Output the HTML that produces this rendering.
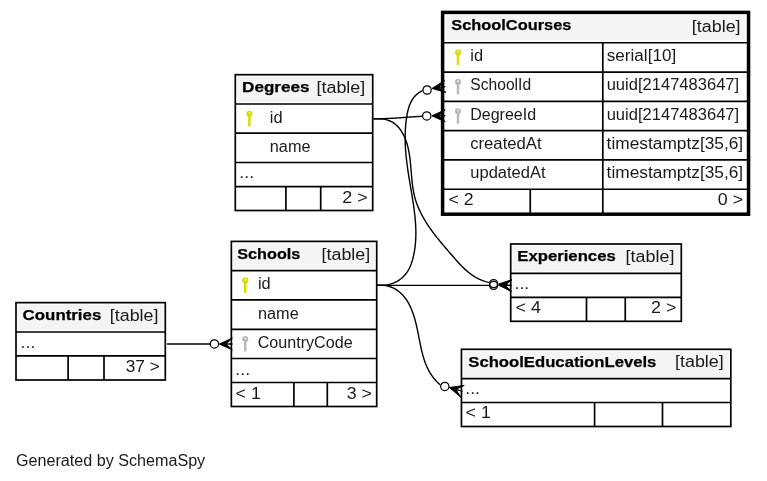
<!DOCTYPE html>
<html><head><meta charset="utf-8"><style>
html,body{margin:0;padding:0;background:#fff;}
svg{display:block;will-change:transform;}
text{font-family:"Liberation Sans",sans-serif;}
</style></head><body>
<svg width="767" height="481" viewBox="0 0 767 481">
<rect width="767" height="481" fill="#fff"/>
<rect x="442.60" y="12.40" width="305.95" height="201.80" fill="#fff"/>
<rect x="445.60" y="15.40" width="299.95" height="25.25" fill="#f4f4f4"/>
<line x1="442.60" y1="42.75" x2="748.55" y2="42.75" stroke="#000" stroke-width="1.7"/>
<line x1="442.60" y1="72.05" x2="748.55" y2="72.05" stroke="#000" stroke-width="1.7"/>
<line x1="442.60" y1="101.35" x2="748.55" y2="101.35" stroke="#000" stroke-width="1.7"/>
<line x1="442.60" y1="130.65" x2="748.55" y2="130.65" stroke="#000" stroke-width="1.7"/>
<line x1="442.60" y1="159.95" x2="748.55" y2="159.95" stroke="#000" stroke-width="1.7"/>
<line x1="442.60" y1="189.25" x2="748.55" y2="189.25" stroke="#000" stroke-width="1.7"/>
<line x1="602.80" y1="42.75" x2="602.80" y2="214.20" stroke="#000" stroke-width="1.7"/>
<line x1="530.25" y1="189.25" x2="530.25" y2="214.20" stroke="#000" stroke-width="1.7"/>
<rect x="442.60" y="12.40" width="305.95" height="201.80" fill="none" stroke="#000" stroke-width="3.5"/>
<text x="451.28" y="29.70" font-weight="bold" font-size="15.4" textLength="120.13" lengthAdjust="spacingAndGlyphs" fill="#000" stroke="#000" stroke-width="0.25">SchoolCourses</text>
<text x="691.82" y="31.80" font-weight="normal" font-size="15.6" textLength="48.75" lengthAdjust="spacingAndGlyphs" fill="#1a1a1a">[table]</text>
<g fill="#d6dc00"><circle cx="458.00" cy="52.60" r="3.05"/><rect x="456.75" y="52.60" width="2.5" height="12.4"/></g><rect x="457.50" y="51.20" width="1.4" height="1.5" fill="#fff"/><rect x="458.55" y="59.80" width="0.7" height="0.6" fill="#fff" opacity="0.6"/><rect x="458.55" y="62.00" width="0.7" height="0.6" fill="#fff" opacity="0.6"/>
<text x="470.39" y="60.95" font-weight="normal" font-size="15.6" textLength="12.75" lengthAdjust="spacingAndGlyphs" fill="#1a1a1a">id</text>
<text x="606.82" y="60.95" font-weight="normal" font-size="15.6" textLength="69.36" lengthAdjust="spacingAndGlyphs" fill="#1a1a1a">serial[10]</text>
<g fill="#b9b9b9"><circle cx="458.00" cy="81.90" r="3.05"/><rect x="456.75" y="81.90" width="2.5" height="12.4"/></g><rect x="457.50" y="80.50" width="1.4" height="1.5" fill="#fff"/><rect x="458.55" y="89.10" width="0.7" height="0.6" fill="#fff" opacity="0.6"/><rect x="458.55" y="91.30" width="0.7" height="0.6" fill="#fff" opacity="0.6"/>
<text x="470.36" y="90.25" font-weight="normal" font-size="15.6" textLength="60.73" lengthAdjust="spacingAndGlyphs" fill="#1a1a1a">SchoolId</text>
<text x="606.67" y="90.25" font-weight="normal" font-size="15.6" textLength="132.47" lengthAdjust="spacingAndGlyphs" fill="#1a1a1a">uuid[2147483647]</text>
<g fill="#b9b9b9"><circle cx="458.00" cy="111.20" r="3.05"/><rect x="456.75" y="111.20" width="2.5" height="12.4"/></g><rect x="457.50" y="109.80" width="1.4" height="1.5" fill="#fff"/><rect x="458.55" y="118.40" width="0.7" height="0.6" fill="#fff" opacity="0.6"/><rect x="458.55" y="120.60" width="0.7" height="0.6" fill="#fff" opacity="0.6"/>
<text x="470.23" y="119.55" font-weight="normal" font-size="15.6" textLength="65.88" lengthAdjust="spacingAndGlyphs" fill="#1a1a1a">DegreeId</text>
<text x="606.67" y="119.55" font-weight="normal" font-size="15.6" textLength="132.47" lengthAdjust="spacingAndGlyphs" fill="#1a1a1a">uuid[2147483647]</text>
<text x="470.20" y="148.85" font-weight="normal" font-size="15.6" textLength="71.42" lengthAdjust="spacingAndGlyphs" fill="#1a1a1a">createdAt</text>
<text x="606.63" y="148.85" font-weight="normal" font-size="15.6" textLength="136.56" lengthAdjust="spacingAndGlyphs" fill="#1a1a1a">timestamptz[35,6]</text>
<text x="470.27" y="178.15" font-weight="normal" font-size="15.6" textLength="75.35" lengthAdjust="spacingAndGlyphs" fill="#1a1a1a">updatedAt</text>
<text x="606.63" y="178.15" font-weight="normal" font-size="15.6" textLength="136.56" lengthAdjust="spacingAndGlyphs" fill="#1a1a1a">timestamptz[35,6]</text>
<text x="448.53" y="204.75" font-weight="normal" font-size="15.6" textLength="25.07" lengthAdjust="spacingAndGlyphs" fill="#1a1a1a">&lt; 2</text>
<text x="717.78" y="204.75" font-weight="normal" font-size="15.6" textLength="25.34" lengthAdjust="spacingAndGlyphs" fill="#1a1a1a">0 &gt;</text>
<rect x="235.30" y="74.70" width="137.40" height="135.80" fill="#fff"/>
<rect x="237.20" y="76.60" width="133.60" height="25.30" fill="#f4f4f4"/>
<line x1="235.30" y1="104.00" x2="372.70" y2="104.00" stroke="#000" stroke-width="1.7"/>
<line x1="235.30" y1="133.20" x2="372.70" y2="133.20" stroke="#000" stroke-width="1.7"/>
<line x1="235.30" y1="162.50" x2="372.70" y2="162.50" stroke="#000" stroke-width="1.7"/>
<line x1="235.30" y1="186.60" x2="372.70" y2="186.60" stroke="#000" stroke-width="1.7"/>
<line x1="285.90" y1="186.60" x2="285.90" y2="210.50" stroke="#000" stroke-width="1.7"/>
<line x1="320.70" y1="186.60" x2="320.70" y2="210.50" stroke="#000" stroke-width="1.7"/>
<rect x="235.30" y="74.70" width="137.40" height="135.80" fill="none" stroke="#000" stroke-width="1.7"/>
<text x="242.06" y="91.70" font-weight="bold" font-size="15.4" textLength="67.54" lengthAdjust="spacingAndGlyphs" fill="#000" stroke="#000" stroke-width="0.25">Degrees</text>
<text x="316.52" y="92.80" font-weight="normal" font-size="15.6" textLength="48.75" lengthAdjust="spacingAndGlyphs" fill="#1a1a1a">[table]</text>
<g fill="#d6dc00"><circle cx="249.40" cy="113.80" r="3.05"/><rect x="248.15" y="113.80" width="2.5" height="12.4"/></g><rect x="248.90" y="112.40" width="1.4" height="1.5" fill="#fff"/><rect x="249.95" y="121.00" width="0.7" height="0.6" fill="#fff" opacity="0.6"/><rect x="249.95" y="123.20" width="0.7" height="0.6" fill="#fff" opacity="0.6"/>
<text x="269.80" y="122.85" font-weight="normal" font-size="15.6" textLength="12.75" lengthAdjust="spacingAndGlyphs" fill="#1a1a1a">id</text>
<text x="269.82" y="152.10" font-weight="normal" font-size="15.6" textLength="40.71" lengthAdjust="spacingAndGlyphs" fill="#1a1a1a">name</text>
<text x="239.39" y="178.25" font-weight="normal" font-size="15.6" textLength="14.74" lengthAdjust="spacingAndGlyphs" fill="#1a1a1a">...</text>
<text x="342.34" y="202.50" font-weight="normal" font-size="15.6" textLength="25.44" lengthAdjust="spacingAndGlyphs" fill="#1a1a1a">2 &gt;</text>
<rect x="231.35" y="241.40" width="145.35" height="165.10" fill="#fff"/>
<rect x="233.25" y="243.30" width="141.55" height="25.30" fill="#f4f4f4"/>
<line x1="231.35" y1="270.70" x2="376.70" y2="270.70" stroke="#000" stroke-width="1.7"/>
<line x1="231.35" y1="299.90" x2="376.70" y2="299.90" stroke="#000" stroke-width="1.7"/>
<line x1="231.35" y1="329.30" x2="376.70" y2="329.30" stroke="#000" stroke-width="1.7"/>
<line x1="231.35" y1="358.50" x2="376.70" y2="358.50" stroke="#000" stroke-width="1.7"/>
<line x1="231.35" y1="382.50" x2="376.70" y2="382.50" stroke="#000" stroke-width="1.7"/>
<line x1="293.90" y1="382.50" x2="293.90" y2="406.50" stroke="#000" stroke-width="1.7"/>
<line x1="327.30" y1="382.50" x2="327.30" y2="406.50" stroke="#000" stroke-width="1.7"/>
<rect x="231.35" y="241.40" width="145.35" height="165.10" fill="none" stroke="#000" stroke-width="1.7"/>
<text x="237.28" y="258.80" font-weight="bold" font-size="15.4" textLength="63.12" lengthAdjust="spacingAndGlyphs" fill="#000" stroke="#000" stroke-width="0.25">Schools</text>
<text x="321.52" y="260.00" font-weight="normal" font-size="15.6" textLength="48.75" lengthAdjust="spacingAndGlyphs" fill="#1a1a1a">[table]</text>
<g fill="#d6dc00"><circle cx="245.25" cy="280.50" r="3.05"/><rect x="244.00" y="280.50" width="2.5" height="12.4"/></g><rect x="244.75" y="279.10" width="1.4" height="1.5" fill="#fff"/><rect x="245.80" y="287.70" width="0.7" height="0.6" fill="#fff" opacity="0.6"/><rect x="245.80" y="289.90" width="0.7" height="0.6" fill="#fff" opacity="0.6"/>
<text x="257.90" y="289.35" font-weight="normal" font-size="15.6" textLength="12.75" lengthAdjust="spacingAndGlyphs" fill="#1a1a1a">id</text>
<text x="258.02" y="318.65" font-weight="normal" font-size="15.6" textLength="40.71" lengthAdjust="spacingAndGlyphs" fill="#1a1a1a">name</text>
<g fill="#b9b9b9"><circle cx="245.25" cy="339.10" r="3.05"/><rect x="244.00" y="339.10" width="2.5" height="12.4"/></g><rect x="244.75" y="337.70" width="1.4" height="1.5" fill="#fff"/><rect x="245.80" y="346.30" width="0.7" height="0.6" fill="#fff" opacity="0.6"/><rect x="245.80" y="348.50" width="0.7" height="0.6" fill="#fff" opacity="0.6"/>
<text x="257.68" y="347.95" font-weight="normal" font-size="15.6" textLength="94.95" lengthAdjust="spacingAndGlyphs" fill="#1a1a1a">CountryCode</text>
<text x="235.39" y="374.70" font-weight="normal" font-size="15.6" textLength="14.74" lengthAdjust="spacingAndGlyphs" fill="#1a1a1a">...</text>
<text x="235.62" y="398.90" font-weight="normal" font-size="15.6" textLength="25.17" lengthAdjust="spacingAndGlyphs" fill="#1a1a1a">&lt; 1</text>
<text x="346.71" y="398.90" font-weight="normal" font-size="15.6" textLength="25.16" lengthAdjust="spacingAndGlyphs" fill="#1a1a1a">3 &gt;</text>
<rect x="16.00" y="302.65" width="149.30" height="77.35" fill="#fff"/>
<rect x="17.90" y="304.55" width="145.50" height="25.35" fill="#f4f4f4"/>
<line x1="16.00" y1="332.00" x2="165.30" y2="332.00" stroke="#000" stroke-width="1.7"/>
<line x1="16.00" y1="355.80" x2="165.30" y2="355.80" stroke="#000" stroke-width="1.7"/>
<line x1="68.10" y1="355.80" x2="68.10" y2="380.00" stroke="#000" stroke-width="1.7"/>
<line x1="104.00" y1="355.80" x2="104.00" y2="380.00" stroke="#000" stroke-width="1.7"/>
<rect x="16.00" y="302.65" width="149.30" height="77.35" fill="none" stroke="#000" stroke-width="1.7"/>
<text x="22.61" y="319.60" font-weight="bold" font-size="15.4" textLength="78.69" lengthAdjust="spacingAndGlyphs" fill="#000" stroke="#000" stroke-width="0.25">Countries</text>
<text x="109.77" y="320.80" font-weight="normal" font-size="15.6" textLength="48.75" lengthAdjust="spacingAndGlyphs" fill="#1a1a1a">[table]</text>
<text x="20.59" y="347.60" font-weight="normal" font-size="15.6" textLength="14.74" lengthAdjust="spacingAndGlyphs" fill="#1a1a1a">...</text>
<text x="125.72" y="371.60" font-weight="normal" font-size="15.6" textLength="34.12" lengthAdjust="spacingAndGlyphs" fill="#1a1a1a">37 &gt;</text>
<rect x="510.70" y="244.00" width="170.60" height="77.30" fill="#fff"/>
<rect x="512.60" y="245.90" width="166.80" height="25.30" fill="#f4f4f4"/>
<line x1="510.70" y1="273.30" x2="681.30" y2="273.30" stroke="#000" stroke-width="1.7"/>
<line x1="510.70" y1="297.30" x2="681.30" y2="297.30" stroke="#000" stroke-width="1.7"/>
<line x1="586.50" y1="297.30" x2="586.50" y2="321.30" stroke="#000" stroke-width="1.7"/>
<line x1="625.25" y1="297.30" x2="625.25" y2="321.30" stroke="#000" stroke-width="1.7"/>
<rect x="510.70" y="244.00" width="170.60" height="77.30" fill="none" stroke="#000" stroke-width="1.7"/>
<text x="517.28" y="260.80" font-weight="bold" font-size="15.4" textLength="98.49" lengthAdjust="spacingAndGlyphs" fill="#000" stroke="#000" stroke-width="0.25">Experiences</text>
<text x="625.62" y="261.90" font-weight="normal" font-size="15.6" textLength="48.75" lengthAdjust="spacingAndGlyphs" fill="#1a1a1a">[table]</text>
<text x="514.49" y="288.80" font-weight="normal" font-size="15.6" textLength="14.74" lengthAdjust="spacingAndGlyphs" fill="#1a1a1a">...</text>
<text x="515.52" y="312.70" font-weight="normal" font-size="15.6" textLength="25.36" lengthAdjust="spacingAndGlyphs" fill="#1a1a1a">&lt; 4</text>
<text x="651.04" y="312.70" font-weight="normal" font-size="15.6" textLength="25.44" lengthAdjust="spacingAndGlyphs" fill="#1a1a1a">2 &gt;</text>
<rect x="461.45" y="349.30" width="269.35" height="77.20" fill="#fff"/>
<rect x="463.35" y="351.20" width="265.55" height="25.40" fill="#f4f4f4"/>
<line x1="461.45" y1="378.70" x2="730.80" y2="378.70" stroke="#000" stroke-width="1.7"/>
<line x1="461.45" y1="402.50" x2="730.80" y2="402.50" stroke="#000" stroke-width="1.7"/>
<line x1="594.60" y1="402.50" x2="594.60" y2="426.50" stroke="#000" stroke-width="1.7"/>
<line x1="662.50" y1="402.50" x2="662.50" y2="426.50" stroke="#000" stroke-width="1.7"/>
<rect x="461.45" y="349.30" width="269.35" height="77.20" fill="none" stroke="#000" stroke-width="1.7"/>
<text x="468.27" y="366.60" font-weight="bold" font-size="15.4" textLength="188.15" lengthAdjust="spacingAndGlyphs" fill="#000" stroke="#000" stroke-width="0.25">SchoolEducationLevels</text>
<text x="675.02" y="367.40" font-weight="normal" font-size="15.6" textLength="48.75" lengthAdjust="spacingAndGlyphs" fill="#1a1a1a">[table]</text>
<text x="465.29" y="394.40" font-weight="normal" font-size="15.6" textLength="14.74" lengthAdjust="spacingAndGlyphs" fill="#1a1a1a">...</text>
<text x="465.62" y="418.30" font-weight="normal" font-size="15.6" textLength="25.17" lengthAdjust="spacingAndGlyphs" fill="#1a1a1a">&lt; 1</text>
<text x="15.94" y="466.30" font-weight="normal" font-size="15.6" textLength="189.26" lengthAdjust="spacingAndGlyphs" fill="#1a1a1a">Generated by SchemaSpy</text>
<path d="M373.60,118.70 L373.91,118.71 L374.21,118.71 L374.52,118.71 L374.83,118.72 L375.14,118.72 L375.44,118.72 L375.75,118.72 L376.06,118.72 L376.36,118.72 L376.67,118.73 L376.98,118.73 L377.28,118.72 L377.59,118.72 L377.90,118.72 L378.20,118.72 L378.51,118.72 L378.82,118.72 L379.12,118.71 L379.43,118.71 L379.74,118.70 L380.04,118.70 L380.35,118.70 L380.66,118.69 L380.96,118.68 L381.27,118.68 L381.58,118.67 L381.88,118.67 L382.19,118.66 L382.50,118.65 L382.80,118.64 L383.11,118.64 L383.42,118.63 L383.72,118.62 L384.03,118.61 L384.34,118.60 L384.64,118.59 L384.95,118.58 L385.26,118.57 L385.56,118.56 L385.87,118.55 L386.18,118.54 L386.48,118.52 L386.79,118.51 L387.10,118.50 L387.40,118.49 L387.71,118.47 L388.01,118.46 L388.32,118.45 L388.63,118.43 L388.93,118.42 L389.24,118.40 L389.55,118.39 L389.85,118.37 L390.16,118.36 L390.47,118.34 L390.77,118.33 L391.08,118.31 L391.38,118.30 L391.69,118.28 L392.00,118.26 L392.30,118.25 L392.61,118.23 L392.92,118.21 L393.22,118.19 L393.53,118.18 L393.83,118.16 L394.14,118.14 L394.45,118.12 L394.75,118.10 L395.06,118.09 L395.37,118.07 L395.67,118.05 L395.98,118.03 L396.28,118.01 L396.59,117.99 L396.90,117.97 L397.20,117.95 L397.51,117.93 L397.81,117.91 L398.12,117.89 L398.43,117.87 L398.73,117.85 L399.04,117.83 L399.34,117.81 L399.65,117.79 L399.96,117.77 L400.26,117.75 L400.57,117.72 L400.87,117.70 L401.18,117.68 L401.49,117.66 L401.79,117.64 L402.10,117.62 L402.41,117.60 L402.71,117.57 L403.02,117.55 L403.32,117.53 L403.63,117.51 L403.94,117.49 L404.24,117.46 L404.55,117.44 L404.85,117.42 L405.16,117.40 L405.47,117.38 L405.77,117.35 L406.08,117.33 L406.38,117.31 L406.69,117.29 L407.00,117.27 L407.30,117.24 L407.61,117.22 L407.91,117.20 L408.22,117.18 L408.53,117.16 L408.83,117.13 L409.14,117.11 L409.44,117.09 L409.75,117.07 L410.06,117.05 L410.36,117.02 L410.67,117.00 L410.97,116.98 L411.28,116.96 L411.59,116.94 L411.89,116.92 L412.20,116.89 L412.50,116.87 L412.81,116.85 L413.12,116.83 L413.42,116.81 L413.73,116.79 L414.03,116.77 L414.34,116.75 L414.65,116.73 L414.95,116.71 L415.26,116.69 L415.56,116.66 L415.87,116.64 L416.18,116.62 L416.48,116.60 L416.79,116.59 L417.10,116.57 L417.40,116.55 L417.71,116.53 L418.01,116.51 L418.32,116.49 L418.63,116.47 L418.93,116.45 L419.24,116.43 L419.54,116.41 L419.85,116.40 L420.16,116.38 L420.46,116.36 L420.77,116.34 L421.08,116.33 L421.38,116.31 L421.69,116.29 L421.99,116.28 L422.30,116.26" fill="none" stroke="#000" stroke-width="1.4" stroke-linejoin="round"/>
<path d="M373.42,118.96 L374.82,118.83 L376.23,118.76 L377.65,118.73 L379.08,118.75 L380.51,118.82 L381.93,118.95 L383.34,119.13 L384.74,119.38 L386.11,119.68 L387.45,120.05 L388.76,120.48 L390.04,120.99 L391.26,121.56 L392.43,122.20 L393.56,122.91 L394.64,123.68 L395.67,124.51 L396.65,125.40 L397.59,126.33 L398.48,127.31 L399.34,128.34 L400.15,129.40 L400.91,130.49 L401.64,131.62 L402.34,132.77 L402.99,133.94 L403.61,135.12 L404.19,136.32 L404.74,137.54 L405.25,138.77 L405.73,140.01 L406.19,141.26 L406.61,142.53 L407.01,143.80 L407.38,145.09 L407.73,146.39 L408.05,147.69 L408.35,149.01 L408.63,150.33 L408.89,151.67 L409.13,153.01 L409.35,154.35 L409.56,155.71 L409.75,157.07 L409.93,158.43 L410.09,159.80 L410.25,161.18 L410.39,162.56 L410.53,163.94 L410.66,165.32 L410.79,166.71 L410.91,168.10 L411.03,169.49 L411.14,170.88 L411.26,172.27 L411.37,173.67 L411.49,175.06 L411.61,176.45 L411.74,177.83 L411.87,179.22 L412.01,180.60 L412.16,181.98 L412.31,183.36 L412.48,184.73 L412.66,186.09 L412.86,187.46 L413.06,188.81 L413.29,190.16 L413.53,191.50 L413.79,192.84 L414.07,194.16 L414.38,195.48 L414.70,196.79 L415.05,198.09 L415.42,199.38 L415.81,200.66 L416.23,201.93 L416.66,203.20 L417.12,204.45 L417.60,205.70 L418.10,206.94 L418.61,208.17 L419.15,209.40 L419.70,210.61 L420.27,211.82 L420.86,213.02 L421.47,214.22 L422.09,215.40 L422.73,216.58 L423.38,217.76 L424.05,218.92 L424.74,220.08 L425.44,221.24 L426.15,222.39 L426.87,223.53 L427.61,224.66 L428.36,225.79 L429.12,226.92 L429.90,228.04 L430.68,229.15 L431.47,230.26 L432.28,231.37 L433.09,232.47 L433.91,233.56 L434.74,234.65 L435.58,235.74 L436.43,236.82 L437.28,237.90 L438.14,238.98 L439.01,240.05 L439.88,241.12 L440.76,242.18 L441.64,243.24 L442.52,244.30 L443.41,245.36 L444.30,246.41 L445.20,247.46 L446.09,248.51 L446.99,249.56 L447.89,250.60 L448.79,251.64 L449.69,252.69 L450.59,253.72 L451.50,254.76 L452.39,255.80 L453.29,256.83 L454.19,257.87 L455.09,258.89 L455.99,259.92 L456.90,260.94 L457.80,261.95 L458.72,262.95 L459.64,263.94 L460.57,264.92 L461.50,265.89 L462.45,266.85 L463.40,267.79 L464.37,268.71 L465.35,269.62 L466.34,270.52 L467.35,271.39 L468.38,272.24 L469.42,273.07 L470.47,273.88 L471.55,274.67 L472.65,275.43 L473.77,276.16 L474.91,276.87 L476.07,277.55 L477.26,278.20 L478.47,278.82 L479.71,279.40 L480.98,279.96 L482.28,280.48 L483.60,280.96 L484.96,281.41 L486.34,281.82 L487.76,282.19 L489.22,282.52" fill="none" stroke="#000" stroke-width="1.4" stroke-linejoin="round"/>
<path d="M377.31,285.11 L378.81,285.25 L380.31,285.33 L381.80,285.33 L383.28,285.27 L384.75,285.15 L386.20,284.96 L387.64,284.71 L389.07,284.39 L390.47,284.02 L391.84,283.59 L393.19,283.10 L394.51,282.55 L395.80,281.96 L397.05,281.30 L398.27,280.60 L399.44,279.84 L400.58,279.03 L401.67,278.18 L402.71,277.27 L403.70,276.32 L404.64,275.33 L405.53,274.29 L406.36,273.22 L407.14,272.10 L407.87,270.95 L408.56,269.76 L409.20,268.55 L409.80,267.31 L410.36,266.04 L410.88,264.75 L411.36,263.44 L411.81,262.12 L412.23,260.78 L412.62,259.43 L412.98,258.07 L413.31,256.70 L413.62,255.33 L413.91,253.96 L414.17,252.59 L414.42,251.22 L414.64,249.84 L414.85,248.46 L415.03,247.08 L415.19,245.70 L415.34,244.32 L415.46,242.94 L415.57,241.55 L415.66,240.17 L415.74,238.78 L415.79,237.39 L415.83,236.00 L415.86,234.61 L415.87,233.22 L415.86,231.82 L415.84,230.43 L415.81,229.03 L415.76,227.64 L415.70,226.24 L415.62,224.84 L415.54,223.44 L415.44,222.04 L415.33,220.65 L415.21,219.24 L415.09,217.84 L414.95,216.44 L414.80,215.04 L414.64,213.64 L414.48,212.23 L414.30,210.83 L414.12,209.43 L413.93,208.02 L413.74,206.62 L413.54,205.22 L413.33,203.81 L413.12,202.41 L412.90,201.00 L412.68,199.60 L412.46,198.20 L412.23,196.79 L412.00,195.39 L411.77,193.98 L411.53,192.58 L411.29,191.18 L411.06,189.78 L410.82,188.37 L410.58,186.97 L410.34,185.57 L410.11,184.17 L409.87,182.77 L409.64,181.37 L409.40,179.97 L409.17,178.57 L408.95,177.18 L408.73,175.78 L408.51,174.38 L408.29,172.99 L408.08,171.59 L407.87,170.20 L407.67,168.81 L407.48,167.41 L407.29,166.02 L407.10,164.63 L406.92,163.24 L406.75,161.85 L406.59,160.46 L406.43,159.06 L406.28,157.67 L406.14,156.28 L406.00,154.89 L405.88,153.50 L405.76,152.11 L405.65,150.72 L405.55,149.33 L405.46,147.95 L405.38,146.56 L405.32,145.17 L405.26,143.78 L405.21,142.39 L405.18,141.00 L405.15,139.61 L405.14,138.22 L405.14,136.83 L405.15,135.44 L405.18,134.04 L405.22,132.65 L405.27,131.26 L405.34,129.87 L405.42,128.48 L405.52,127.08 L405.63,125.69 L405.75,124.30 L405.89,122.90 L406.05,121.51 L406.22,120.11 L406.41,118.72 L406.62,117.32 L406.84,115.92 L407.09,114.53 L407.36,113.14 L407.65,111.75 L407.97,110.38 L408.33,109.02 L408.72,107.68 L409.15,106.36 L409.63,105.06 L410.15,103.78 L410.71,102.53 L411.33,101.31 L412.00,100.12 L412.74,98.97 L413.53,97.86 L414.38,96.79 L415.30,95.76 L416.29,94.78 L417.36,93.85 L418.50,92.97 L419.72,92.14 L421.02,91.38 L422.41,90.67" fill="none" stroke="#000" stroke-width="1.4" stroke-linejoin="round"/>
<path d="M377.6,285.35 L489.3,285.35" fill="none" stroke="#000" stroke-width="1.4" stroke-linejoin="round"/>
<path d="M377.10,285.17 L378.06,285.11 L379.00,285.09 L379.93,285.08 L380.85,285.10 L381.75,285.14 L382.64,285.20 L383.52,285.29 L384.38,285.39 L385.23,285.52 L386.06,285.67 L386.88,285.84 L387.69,286.02 L388.48,286.23 L389.26,286.46 L390.02,286.70 L390.78,286.97 L391.52,287.25 L392.24,287.55 L392.96,287.87 L393.66,288.21 L394.35,288.56 L395.03,288.93 L395.69,289.31 L396.34,289.71 L396.98,290.13 L397.61,290.56 L398.22,291.01 L398.83,291.47 L399.42,291.94 L400.00,292.43 L400.56,292.93 L401.12,293.44 L401.66,293.97 L402.20,294.51 L402.72,295.06 L403.23,295.62 L403.73,296.19 L404.21,296.78 L404.69,297.37 L405.16,297.98 L405.61,298.59 L406.06,299.21 L406.49,299.85 L406.92,300.49 L407.33,301.14 L407.73,301.79 L408.13,302.46 L408.51,303.14 L408.89,303.82 L409.25,304.51 L409.61,305.20 L409.96,305.91 L410.29,306.62 L410.63,307.33 L410.95,308.05 L411.26,308.78 L411.57,309.52 L411.87,310.26 L412.16,311.00 L412.44,311.75 L412.72,312.51 L412.99,313.27 L413.25,314.03 L413.51,314.80 L413.76,315.57 L414.01,316.35 L414.24,317.13 L414.48,317.91 L414.70,318.69 L414.93,319.48 L415.14,320.27 L415.36,321.06 L415.56,321.86 L415.76,322.65 L415.96,323.45 L416.16,324.25 L416.35,325.05 L416.53,325.85 L416.71,326.65 L416.89,327.46 L417.07,328.26 L417.24,329.06 L417.41,329.86 L417.58,330.67 L417.74,331.47 L417.91,332.27 L418.07,333.08 L418.23,333.88 L418.39,334.68 L418.55,335.48 L418.70,336.29 L418.86,337.09 L419.02,337.89 L419.17,338.69 L419.33,339.49 L419.49,340.28 L419.64,341.08 L419.80,341.88 L419.96,342.67 L420.12,343.47 L420.28,344.26 L420.44,345.05 L420.61,345.84 L420.78,346.63 L420.95,347.41 L421.12,348.20 L421.30,348.98 L421.48,349.76 L421.66,350.54 L421.84,351.31 L422.03,352.09 L422.23,352.86 L422.42,353.63 L422.63,354.39 L422.84,355.16 L423.05,355.92 L423.27,356.68 L423.49,357.43 L423.72,358.19 L423.95,358.94 L424.19,359.68 L424.44,360.43 L424.70,361.17 L424.96,361.90 L425.23,362.64 L425.50,363.36 L425.78,364.09 L426.08,364.81 L426.37,365.53 L426.68,366.25 L427.00,366.96 L427.32,367.66 L427.66,368.37 L428.00,369.06 L428.35,369.76 L428.71,370.45 L429.09,371.13 L429.47,371.81 L429.86,372.49 L430.26,373.16 L430.68,373.82 L431.10,374.48 L431.54,375.14 L431.99,375.79 L432.45,376.43 L432.92,377.07 L433.40,377.71 L433.90,378.34 L434.41,378.96 L434.93,379.58 L435.47,380.19 L436.02,380.80 L436.58,381.40 L437.16,381.99 L437.75,382.58 L438.35,383.16 L438.97,383.73 L439.61,384.30 L440.26,384.87" fill="none" stroke="#000" stroke-width="1.4" stroke-linejoin="round"/>
<path d="M167.0,344.0 L210.1,344.0" fill="none" stroke="#000" stroke-width="1.4" stroke-linejoin="round"/>
<polygon points="432.10,88.40 444.39,80.71 438.65,87.50 445.20,86.60 438.65,87.50 446.01,92.49" fill="#000" stroke="#000" stroke-width="1.0" stroke-linejoin="miter"/>
<circle cx="427.10" cy="90.00" r="4.15" fill="none" stroke="#000" stroke-width="1.25"/>
<polygon points="431.90,115.85 445.18,109.81 438.55,115.82 445.20,115.80 438.55,115.82 445.22,121.78" fill="#000" stroke="#000" stroke-width="1.0" stroke-linejoin="miter"/>
<circle cx="426.75" cy="115.95" r="4.15" fill="none" stroke="#000" stroke-width="1.25"/>
<polygon points="498.60,285.35 511.40,279.59 505.00,285.35 511.40,285.35 505.00,285.35 511.40,291.11" fill="#000" stroke="#000" stroke-width="1.0" stroke-linejoin="miter"/>
<circle cx="493.60" cy="285.35" r="4.05" fill="none" stroke="#000" stroke-width="1.25"/>
<polygon points="498.50,284.00 512.02,279.84 504.90,284.80 511.30,285.60 504.90,284.80 510.58,291.36" fill="#000" stroke="#000" stroke-width="1.0" stroke-linejoin="miter"/>
<circle cx="493.60" cy="283.60" r="4.05" fill="none" stroke="#000" stroke-width="1.25"/>
<polygon points="449.40,387.50 464.21,385.40 455.95,389.40 462.50,391.30 455.95,389.40 460.79,397.20" fill="#000" stroke="#000" stroke-width="1.0" stroke-linejoin="miter"/>
<circle cx="444.80" cy="386.40" r="4.15" fill="none" stroke="#000" stroke-width="1.25"/>
<polygon points="219.30,344.00 232.40,338.11 225.85,344.00 232.40,344.00 225.85,344.00 232.40,349.89" fill="#000" stroke="#000" stroke-width="1.0" stroke-linejoin="miter"/>
<circle cx="214.40" cy="343.95" r="4.15" fill="none" stroke="#000" stroke-width="1.25"/>
</svg>
</body></html>
